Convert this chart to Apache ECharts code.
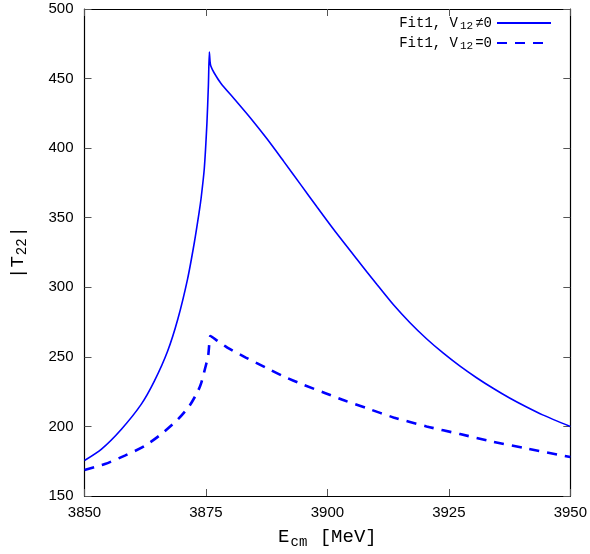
<!DOCTYPE html>
<html>
<head>
<meta charset="utf-8">
<script src="https://cdn.jsdelivr.net/npm/echarts@6/dist/echarts.min.js"></script>
<style>
  html, body { margin: 0; padding: 0; background: #fff; }
  #chart { width: 590px; height: 554px; }
</style>
</head>
<body>
<div id="chart"></div>
<script>
// |T22| amplitude vs centre-of-mass energy, two fits
const xTicks = [3850, 3875, 3900, 3925, 3950];
const yTicks = [150, 200, 250, 300, 350, 400, 450, 500];

// Fit1 with V12 != 0
const energyCoupled = [3850, 3853.5, 3857.6, 3861.7, 3864.4, 3867.1, 3869.2, 3871.2, 3872.6, 3873.6,
  3874.0, 3874.65, 3875.2, 3875.5, 3875.7, 3875.85, 3876.0, 3876.7, 3878.1, 3880.8,
  3884.2, 3887.6, 3891.0, 3894.5, 3897.9, 3901.3, 3906.0, 3910.2, 3913.6, 3917.0,
  3920.4, 3923.8, 3927.3, 3930.7, 3934.1, 3937.5, 3940.9, 3944.3, 3950];
const tCoupled = [175.5, 183.7, 198, 216, 232.7, 254, 277, 305.7, 332, 354,
  364, 385, 418, 445, 469, 462, 459, 454, 446.5, 435.5,
  421.5, 406.5, 390.5, 373.8, 357.5, 341.5, 320.5, 302, 287.4, 274.5,
  263, 252.8, 243.3, 235, 227.4, 220.4, 214.1, 208.3, 200];

// Fit1 with V12 = 0
const energyUncoupled = [3850, 3854.2, 3858.3, 3862.4, 3865.8, 3869.2, 3871.6, 3873.3, 3874.0, 3874.7,
  3875.3, 3875.5, 3875.9, 3876.1, 3879.4, 3883.2, 3887.3, 3891.0, 3895.1, 3899.6,
  3903.7, 3908.1, 3913.6, 3920.4, 3927.3, 3934.1, 3940.9, 3950];
const tUncoupled = [168.6, 173, 179, 186, 194.5, 205, 214.8, 225, 231, 240,
  248.3, 252, 265, 264.6, 256.7, 249.5, 242.3, 235.9, 229.9, 223.9,
  218.4, 213.1, 206.5, 200, 194.5, 189, 184.2, 178];

const seriesNames = ['Fit1, V{sub|12}\u22600', 'Fit1, V{sub|12}=0'];

const pairs = (xs, ys) => xs.map((x, i) => [x, ys[i]]);

const mono = 'Liberation Mono, DejaVu Sans Mono, monospace';
const sans = 'Liberation Sans, Arial, Helvetica, sans-serif';

const tickStyle = { show: true, inside: true, length: 7, lineStyle: { color: '#555', width: 1 } };
const lineStyleAxis = { show: true, onZero: false, lineStyle: { color: '#000', width: 1.2 } };

const xMin = xTicks[0], xMax = xTicks[xTicks.length - 1];
const yMin = yTicks[0], yMax = yTicks[yTicks.length - 1];
const xStep = xTicks[1] - xTicks[0], yStep = yTicks[1] - yTicks[0];

const nameStyle = {
  fontFamily: mono, fontSize: 19, color: '#000',
  rich: { sub: { fontFamily: mono, fontSize: 14, color: '#000', padding: [10, 1, 0, 1] } }
};

const chart = echarts.init(document.getElementById('chart'), null, { renderer: 'canvas' });

chart.setOption({
  backgroundColor: '#fff',
  animation: false,
  grid: { left: 83, right: 19, top: 9, bottom: 57, containLabel: false },
  legend: {
    orient: 'vertical',
    right: 33,
    top: 11,
    align: 'right',
    itemWidth: 54,
    itemHeight: 12,
    itemGap: 4,
    data: seriesNames,
    formatter: n => n,
    itemStyle: { opacity: 0 },
    textStyle: {
      fontFamily: mono, fontSize: 14, color: '#000', padding: [0, 0, 0, 0],
      rich: { sub: { fontFamily: mono, fontSize: 11, color: '#000', padding: [7, 2, 0, 2] } }
    }
  },
  xAxis: [
    {
      type: 'value', min: xMin, max: xMax, interval: xStep, position: 'bottom',
      axisLine: lineStyleAxis, axisTick: tickStyle, splitLine: { show: false },
      axisLabel: { fontFamily: sans, fontSize: 15, color: '#000', margin: 9, formatter: v => String(v) },
      name: 'E{sub|cm} [MeV]', nameLocation: 'middle', nameGap: 29,
      nameTextStyle: nameStyle
    },
    {
      type: 'value', min: xMin, max: xMax, interval: xStep, position: 'top',
      axisLine: lineStyleAxis, axisTick: tickStyle, splitLine: { show: false },
      axisLabel: { show: false }
    }
  ],
  yAxis: [
    {
      type: 'value', min: yMin, max: yMax, interval: yStep, position: 'left',
      axisLine: lineStyleAxis, axisTick: tickStyle, splitLine: { show: false },
      axisLabel: { fontFamily: sans, fontSize: 15, color: '#000', margin: 11, formatter: v => String(v) },
      name: '|T{sub|22}|', nameLocation: 'middle', nameRotate: 90, nameGap: 55,
      nameTextStyle: nameStyle
    },
    {
      type: 'value', min: yMin, max: yMax, interval: yStep, position: 'right',
      axisLine: lineStyleAxis, axisTick: tickStyle, splitLine: { show: false },
      axisLabel: { show: false }
    }
  ],
  series: [
    {
      name: seriesNames[0], type: 'line', xAxisIndex: 0, yAxisIndex: 0,
      data: pairs(energyCoupled, tCoupled),
      showSymbol: false, symbol: 'none', smooth: 0.25,
      lineStyle: { color: '#0000ff', width: 1.6, type: 'solid' },
      itemStyle: { color: '#0000ff' }, clip: true
    },
    {
      name: seriesNames[1], type: 'line', xAxisIndex: 0, yAxisIndex: 0,
      data: pairs(energyUncoupled, tUncoupled),
      showSymbol: false, symbol: 'none', smooth: 0.25,
      lineStyle: { color: '#0000ff', width: 2.6, type: [10, 8] },
      itemStyle: { color: '#0000ff' }, clip: true
    }
  ]
});
</script>
</body>
</html>
